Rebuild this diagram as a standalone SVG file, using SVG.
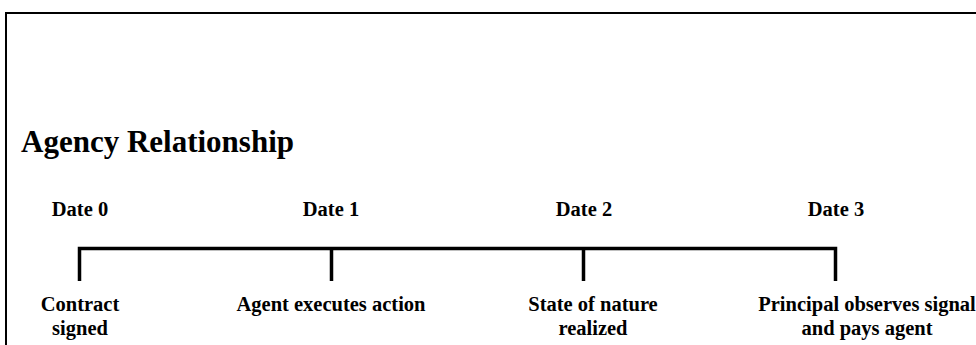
<svg xmlns="http://www.w3.org/2000/svg" width="976" height="345" viewBox="0 0 976 345">
<style>
text{font-family:"Liberation Serif","Times New Roman",serif;font-weight:bold;fill:#000}
.t{font-size:31px}
.d{font-size:20.5px;text-anchor:middle}
.l{font-size:20.5px;text-anchor:middle}
.ln{stroke:#000;stroke-width:3.5;fill:none}
</style>
<rect x="6" y="13" width="1100" height="500" fill="#fff" stroke="#000" stroke-width="2"/>
<text id="title" class="t" x="21" y="152">Agency Relationship</text>
<g id="connectors">
<path class="ln" d="M79.5 281 V248.5 H835.5 V281 M331.5 248.5 V281 M583.5 248.5 V281"/>
</g>
<g id="date0"><text class="d" x="80" y="216">Date 0</text><text class="l" x="80" y="311">Contract</text><text class="l" x="80" y="335">signed</text></g>
<g id="date1"><text class="d" x="331" y="216">Date 1</text><text class="l" x="331" y="311">Agent executes action</text></g>
<g id="date2"><text class="d" x="584" y="216">Date 2</text><text class="l" x="593" y="311">State of nature</text><text class="l" x="593" y="335">realized</text></g>
<g id="date3"><text class="d" x="836" y="216">Date 3</text><text class="l" x="867" y="311">Principal observes signal</text><text class="l" x="867" y="335">and pays agent</text></g>
</svg>
